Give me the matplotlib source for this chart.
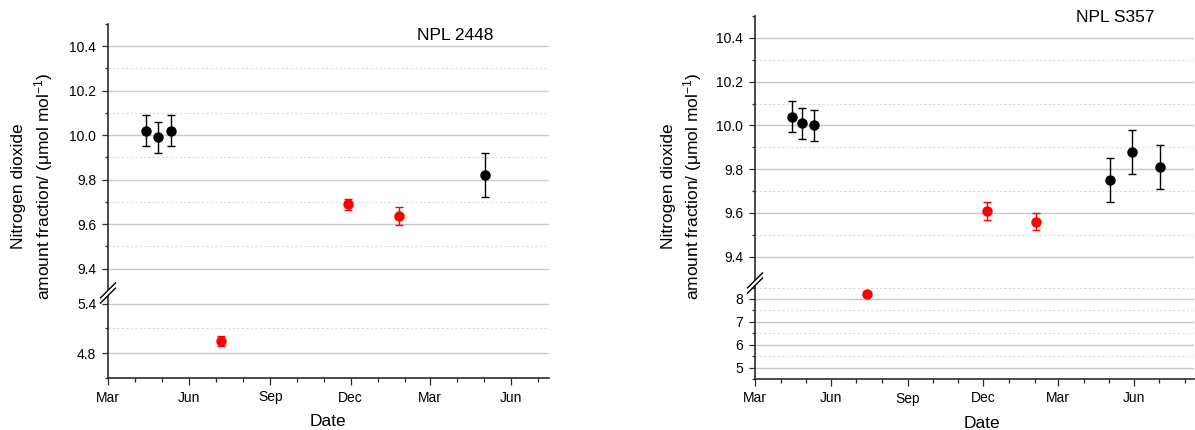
import matplotlib
matplotlib.use("Agg")
import matplotlib.pyplot as plt
import matplotlib.dates as mdates
from matplotlib.ticker import FixedLocator
from matplotlib.lines import Line2D
from matplotlib.patches import Polygon
import numpy as np
import pandas as pd

plt.rcParams['font.family'] = ['Liberation Sans', 'DejaVu Sans']
plt.rcParams['mathtext.fontset'] = 'custom'
plt.rcParams['mathtext.rm'] = 'Liberation Sans'
plt.rcParams['mathtext.it'] = 'Liberation Sans:italic'
plt.rcParams['mathtext.default'] = 'regular'

# ---------------- data ----------------
left_title = "NPL 2448"
left_black_dates = ['2018-04-13', '2018-04-27', '2018-05-11', '2019-05-03']
left_black_vals = [10.02, 9.99, 10.02, 9.82]
left_black_err = [0.07, 0.07, 0.07, 0.10]
left_red_dates = ['2018-07-07', '2018-11-28', '2019-01-25']
left_red_vals = [4.95, 9.69, 9.635]
left_red_err = [0.06, 0.025, 0.04]

right_title = "NPL S357"
right_black_dates = ['2018-04-14', '2018-04-27', '2018-05-11', '2019-05-03', '2019-05-29', '2019-07-02']
right_black_vals = [10.04, 10.01, 10.00, 9.75, 9.88, 9.81]
right_black_err = [0.07, 0.07, 0.07, 0.10, 0.10, 0.10]
right_red_dates = ['2018-07-14', '2018-12-06', '2019-02-03']
right_red_vals = [8.22, 9.61, 9.56]
right_red_err = [0.05, 0.04, 0.04]

upper_major = [9.4, 9.6, 9.8, 10.0, 10.2, 10.4]
upper_minor = [9.5, 9.7, 9.9, 10.1, 10.3, 10.5]
left_lower_major = [4.8, 5.4]
left_lower_minor = [4.5, 5.1]
right_lower_major = [5, 6, 7, 8]
right_lower_minor = [4.5, 5.5, 6.5, 7.5, 8.5]

ylabel1 = "Nitrogen dioxide"
ylabel2 = "amount fraction/ (\u03bcmol mol$^{-1}$)"
xlabel = "Date"

# ---------------- layout ----------------
W, H = 1195, 430
fig = plt.figure(figsize=(W / 100, H / 100), dpi=100)


def rect(x0, x1, y0, y1):
    return [x0 / W, 1 - y1 / H, (x1 - x0) / W, (y1 - y0) / H]


AX_COL = '#2b2b2b'
MAJ_GRID = '#c8c8c8'
MIN_GRID = '#dcdcdc'


def style_axis(ax, major, minor, labels):
    ax.yaxis.set_major_locator(FixedLocator(major))
    ax.yaxis.set_minor_locator(FixedLocator(minor))
    if labels is not None:
        ax.set_yticklabels(labels)
    for s in ['right', 'top']:
        ax.spines[s].set_visible(False)
    ax.spines['left'].set_color(AX_COL)
    ax.spines['left'].set_linewidth(1.2)
    ax.spines['bottom'].set_color(AX_COL)
    ax.spines['bottom'].set_linewidth(1.2)
    ax.tick_params(axis='y', which='major', direction='out', length=4.5, width=0.9,
                   color=AX_COL, labelsize=10, pad=4)
    ax.tick_params(axis='y', which='minor', direction='out', length=2.5, width=0.9,
                   color=AX_COL)
    ax.grid(which='major', axis='y', color=MAJ_GRID, lw=1.0)
    ax.grid(which='minor', axis='y', color=MIN_GRID, lw=0.8, ls=(0, (2, 2)))
    ax.set_axisbelow(True)
    # no gridline drawn on the axis ends
    lo, hi = ax.get_ylim()
    for val, tk in zip(minor, ax.yaxis.get_minor_ticks()):
        if abs(val - hi) < 1e-6 or abs(val - lo) < 1e-6:
            tk.gridline.set_visible(False)


def plot_series(ax, bd, bv, be, rd, rv, re):
    bd = pd.to_datetime(bd)
    rd = pd.to_datetime(rd)
    ax.errorbar(bd, bv, yerr=be, fmt='o', color='black', ms=6.5, capsize=3,
                elinewidth=1.0, capthick=1.0, zorder=3)
    ax.errorbar(rd, rv, yerr=re, fmt='o', color='#ff0000', ms=6.5, capsize=3,
                elinewidth=1.0, capthick=1.0, zorder=3)


def make_panel(x0, x1, ytop, ybreak, ybot, up_lim, lo_lim, lo_major, lo_minor,
               lo_labels, xend, data, title, title_xy, yl_x1, yl_x2, yl_yc, date_xy,
               brk_xy):
    axu = fig.add_axes(rect(x0, x1, ytop, ybreak))
    axl = fig.add_axes(rect(x0, x1, ybreak, ybot), sharex=axu)
    for ax in (axu, axl):
        plot_series(ax, *data)
    axu.set_ylim(*up_lim)
    axl.set_ylim(*lo_lim)
    style_axis(axu, upper_major, upper_minor, None)
    style_axis(axl, lo_major, lo_minor, lo_labels)
    axu.yaxis.set_major_formatter(matplotlib.ticker.FormatStrFormatter('%.1f'))
    axu.spines['bottom'].set_visible(False)
    axu.tick_params(axis='x', which='both', bottom=False, labelbottom=False)

    axl.set_xlim(pd.Timestamp('2018-03-01'), pd.Timestamp(xend))
    axl.xaxis.set_major_locator(mdates.MonthLocator(bymonth=[3, 6, 9, 12]))
    axl.xaxis.set_minor_locator(mdates.MonthLocator())
    axl.xaxis.set_major_formatter(mdates.DateFormatter('%b'))
    axl.tick_params(axis='x', which='major', direction='out', length=5, width=0.9,
                    color=AX_COL, labelsize=10, pad=4)
    axl.tick_params(axis='x', which='minor', direction='out', length=3, width=0.9,
                    color=AX_COL)

    fig.text(title_xy[0] / W, 1 - title_xy[1] / H, title, ha='center', va='center',
             fontsize=12.5)
    fig.text(yl_x1 / W, 1 - yl_yc / H, ylabel1, rotation=90, ha='center',
             va='center', fontsize=12.5)
    fig.text(yl_x2 / W, 1 - yl_yc / H, ylabel2, rotation=90, ha='center',
             va='center', fontsize=12.5)
    fig.text(date_xy[0] / W, 1 - date_xy[1] / H, xlabel, ha='center', va='center',
             fontsize=12.5)

    # axis break marks
    cx, cy = brk_xy
    d = 7.5
    off = 2.6

    def fp(px, py):
        return (px / W, 1 - py / H)

    poly = Polygon([fp(cx - d, cy + d - off), fp(cx + d, cy - d - off),
                    fp(cx + d, cy - d + off), fp(cx - d, cy + d + off)],
                   closed=True, transform=fig.transFigure, facecolor='white',
                   edgecolor='none', zorder=10)
    fig.add_artist(poly)
    for o in (-off, off):
        p1 = fp(cx - d, cy + d + o)
        p2 = fp(cx + d, cy - d + o)
        fig.add_artist(Line2D([p1[0], p2[0]], [p1[1], p2[1]], transform=fig.transFigure,
                              color='black', lw=1.0, zorder=11))


make_panel(108, 549, 24, 293, 378, (9.29, 10.5), (4.5, 5.53),
           left_lower_major, left_lower_minor, ['4.8', '5.4'], '2019-07-14',
           (left_black_dates, left_black_vals, left_black_err,
            left_red_dates, left_red_vals, left_red_err),
           left_title, (455, 35), 19, 44, 186, (328, 421), (108, 293))

make_panel(755, 1194, 16, 283, 379, (9.28, 10.5), (4.5, 8.7),
           right_lower_major, right_lower_minor, ['5', '6', '7', '8'], '2019-08-12',
           (right_black_dates, right_black_vals, right_black_err,
            right_red_dates, right_red_vals, right_red_err),
           right_title, (1115, 18), 668, 693, 186, (982, 423), (755, 283))

fig.savefig('out.png', dpi=100)
